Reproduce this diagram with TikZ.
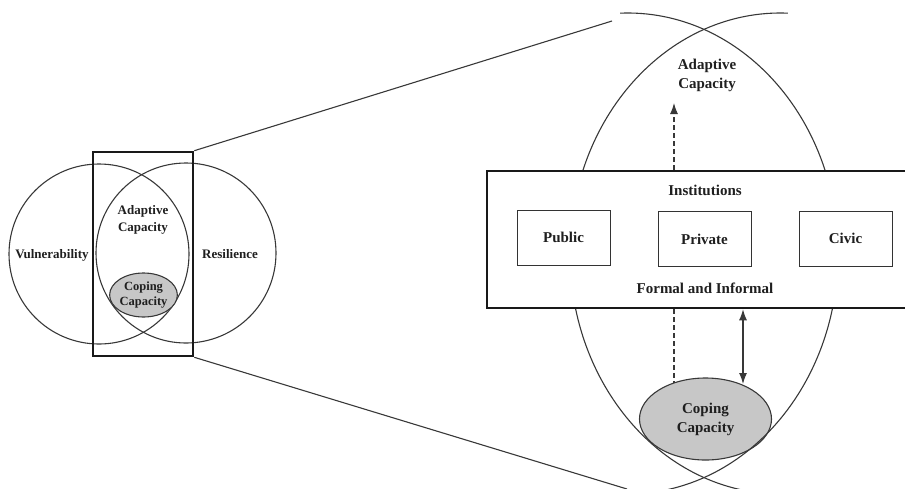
\documentclass[tikz,border=0pt]{standalone}
\usepackage{fontspec}
\setmainfont{Liberation Serif}
\usetikzlibrary{shapes.geometric,arrows.meta}
\begin{document}
\begin{tikzpicture}[x=1pt,y=1pt,
  thin line/.style={draw=black!78, line width=1.1pt},
  lbl/.style={font=\bfseries\fontsize{13}{16.5}\selectfont, align=center, text=black!88, inner sep=0pt},
  biglbl/.style={font=\bfseries\fontsize{15}{19}\selectfont, align=center, text=black!88, inner sep=0pt},
  cope/.style={ellipse, draw=black!78, line width=1.1pt, fill=black!22, inner sep=0pt},
  sector/.style={draw=black!80, line width=1pt, fill=white, minimum width=93pt, minimum height=55pt, inner sep=0pt},
  frame/.style={draw=black!90, line width=2.6pt, inner sep=0pt},
  tip/.style={-{Latex[length=11pt,width=8pt]}},
  twotips/.style={{Latex[length=11pt,width=8pt]}-{Latex[length=11pt,width=8pt]}},
  dash line/.style={dash pattern=on 5pt off 3pt}
]
\useasboundingbox (0,0) rectangle (905,-488);
\clip (0,0) rectangle (905,-488);

% overview: vulnerability and resilience overlap
\node[circle, thin line, minimum size=180pt, inner sep=0pt] (vul) at (99,-254) {};
\node[circle, thin line, minimum size=180pt, inner sep=0pt] (res) at (186,-253) {};
\node[lbl] (vultxt) at (52,-255) {Vulnerability};
\node[lbl] (restxt) at (230,-254) {Resilience};
\node[lbl] (adsmall) at (143,-220) {Adaptive\\Capacity};
\node[cope, minimum width=66pt, minimum height=44pt, font=\bfseries\fontsize{12.5}{15}\selectfont, align=center, text=black!88] (copesmall) at (143.5,-295) {Coping\\Capacity};
\node[frame, minimum width=100pt, minimum height=204pt] (zoomframe) at (143,-254) {};

% magnification rays
\coordinate (topend) at (612,-21);
\coordinate (botend) at (627,-489);
\draw[thin line] (zoomframe.north east) -- (topend);
\draw[thin line] (zoomframe.south east) -- (botend);

% enlarged overlap
\node[cope, minimum width=132pt, minimum height=82pt, font=\bfseries\fontsize{15}{19}\selectfont, align=center, text=black!88] (copebig) at (705.5,-419) {Coping\\Capacity};
\draw[thin line] (620.15,-13.15) arc[start angle=92, end angle=-85, x radius=210.5, y radius=240.5];
\draw[thin line] (787.85,-13.15) arc[start angle=88, end angle=265, x radius=210.5, y radius=240.5];
\node[biglbl] (adbig) at (707,-75) {Adaptive\\Capacity};

% institutions band
\node[frame, fill=white, minimum width=423pt, minimum height=137pt] (inst) at (698.5,-239.5) {};
\node[biglbl] (insttxt) at (705,-190) {Institutions};
\node[biglbl] (formal) at (705,-288) {Formal and Informal};
\node[sector, biglbl] (public) at (563.5,-237.5) {Public};
\node[sector, biglbl] (private) at (704.5,-239) {Private};
\node[sector, biglbl] (civic) at (845.5,-238.5) {Civic};

% links
\coordinate (adtip) at (674,-103);
\draw[thin line, dash line, tip] (inst.north -| adtip) -- (adtip);
\coordinate (dashfoot) at (674,-383);
\draw[thin line, dash line] (inst.south -| dashfoot) -- (dashfoot);
\coordinate (linkfoot) at (743,-384);
\draw[thin line, twotips] (inst.south -| linkfoot) -- (linkfoot);
\end{tikzpicture}
\end{document}
